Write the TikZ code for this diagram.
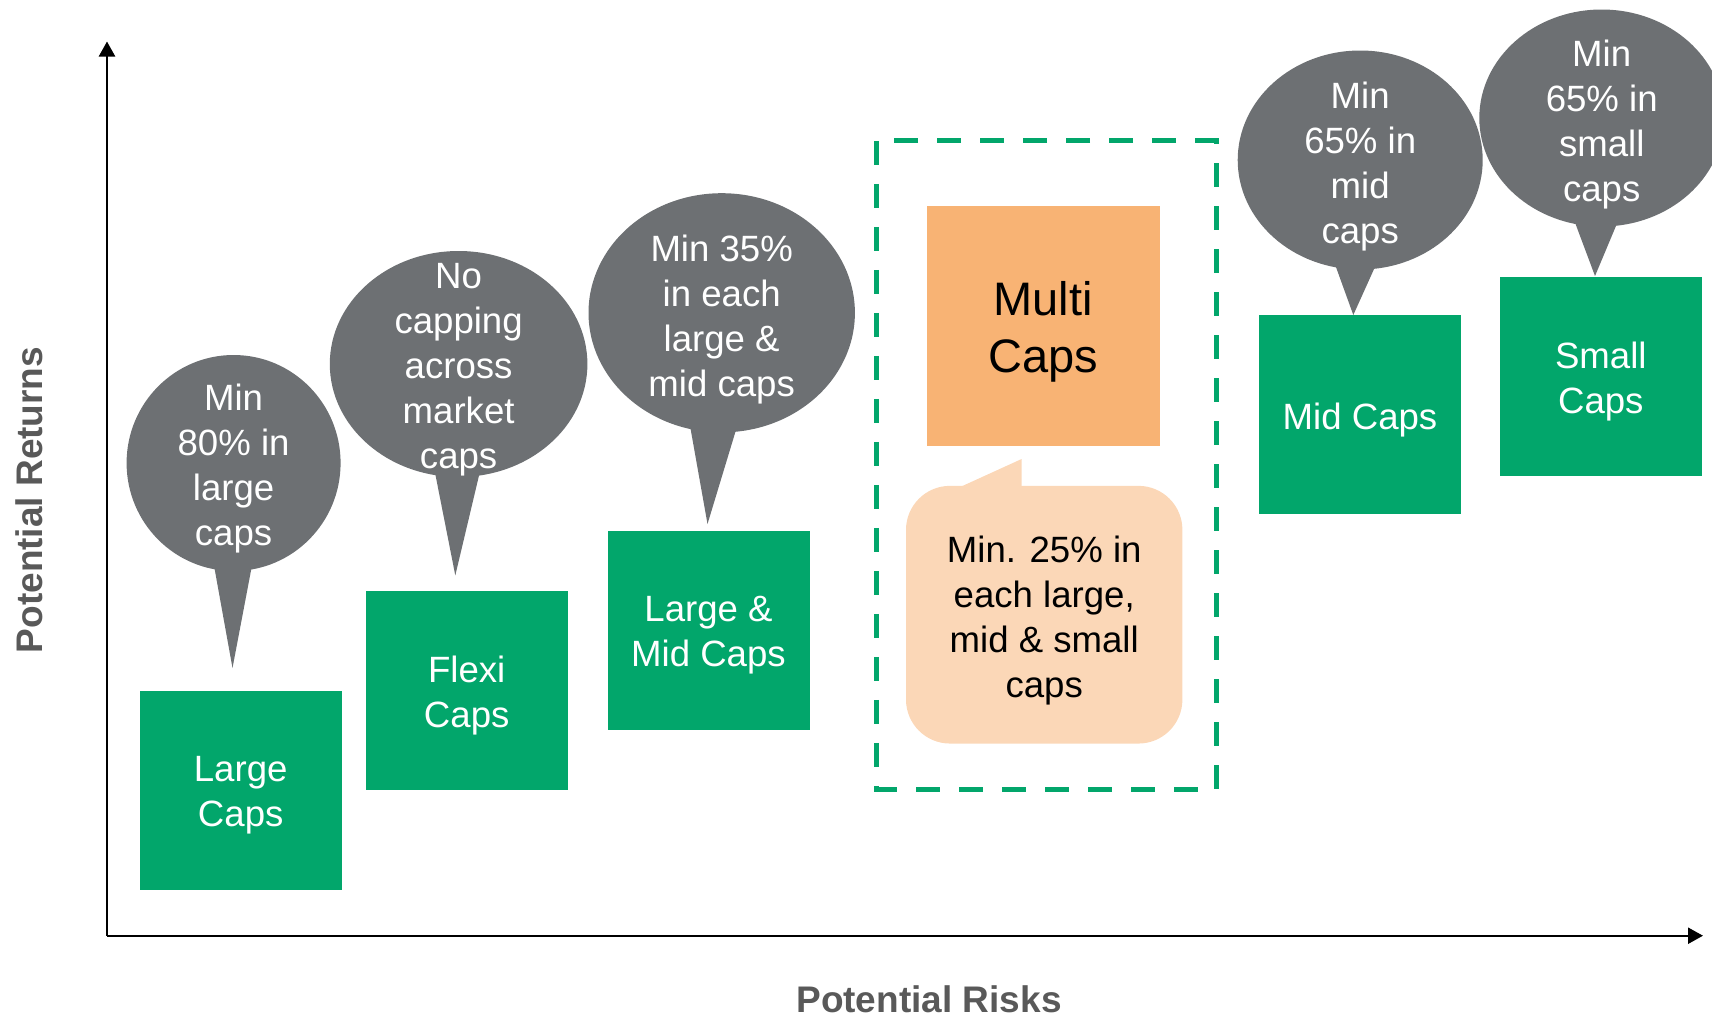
\documentclass[tikz,border=0pt]{standalone}
\usepackage{fontspec}
\setmainfont{Liberation Sans}
\usetikzlibrary{arrows.meta,calc}
\definecolor{capgreen}{HTML}{02A66B}
\definecolor{bubgray}{HTML}{6D7073}
\definecolor{multiorange}{HTML}{F8B374}
\definecolor{peach}{HTML}{FBD7B7}
\definecolor{axisgray}{HTML}{595959}
\begin{document}
\begin{tikzpicture}[x=0.5pt,y=-0.5pt,
  capbox/.style={fill=capgreen, minimum width=101pt, minimum height=99.5pt, inner sep=0pt},
  txt/.style={align=center, inner sep=0pt, yshift=-2.8pt, font=\fontsize{18.3}{22.5}\selectfont},
  captext/.style={txt, text=white},
  bubtext/.style={txt, text=white},
  bub/.style={fill=bubgray},
  axislabel/.style={text=axisgray, inner sep=0pt, font=\fontsize{18.5}{22}\selectfont\bfseries},
  axisline/.style={line width=1.15pt, -{Triangle[width=8pt,length=7.5pt]}}]
\useasboundingbox (0,0) rectangle (1712,1017);
\clip (0,0) rectangle (1712,1017);

% axes
\coordinate (origin) at (107,935.7);
\coordinate (ytop) at (107,41.5);
\coordinate (xend) at (1703,935.7);
\draw[axisline] (origin) -- (ytop);
\draw[axisline] (origin) -- (xend);
\node[axislabel, rotate=90] (ylab) at (29.5,500) {Potential Returns};
\node[axislabel] (xlab) at (929,999) {Potential Risks};

% dashed frame
\draw[capgreen, line width=2.4pt, dash pattern=on 12pt off 9.5pt] (876.7,140.8) rectangle (1216.3,789.4);

% green boxes
\node[capbox] (large) at (240.7,790) {};
\node[captext] at (large.center) {Large\\Caps};
\node[capbox] (flexi) at (466.7,690) {};
\node[captext] at (flexi.center) {Flexi\\Caps};
\node[capbox] (largemid) at (708.5,630) {};
\node[captext] at (largemid.center) {Large \&\\Mid Caps};
\node[capbox] (mid) at (1360,414.5) {};
\node[captext] at (mid.center) {Mid Caps};
\node[capbox] (small) at (1600.8,376) {};
\node[captext] at (small.center) {Small\\Caps};

% multi caps
\node[fill=multiorange, minimum width=116.25pt, minimum height=120pt, inner sep=0pt] (multi) at (1043.3,326.4) {};
\node[txt, font=\fontsize{23.5}{28.5}\selectfont] at (multi.center) {Multi\\Caps};
\fill[peach] (953.6,490) -- (1021.6,459) -- (1021.6,490) -- cycle;
\node[fill=peach, rounded corners=22pt, minimum width=138.2pt, minimum height=128.85pt, inner sep=0pt] (note) at (1044.2,614.7) {};
\node[txt] at (note.center) {Min. 25\% in\\each large,\\mid \& small\\caps};

% bubbles
\fill[bub] (233.6,463) ellipse [x radius=53.5pt, y radius=54pt];
\fill[bub] (213,560) -- (232.5,668) -- (253,560) -- cycle;
\node[bubtext] (b1) at (233.6,463) {Min\\80\% in\\large\\caps};

\fill[bub] (458.6,364) ellipse [x radius=64.4pt, y radius=56.5pt];
\fill[bub] (433.5,465) -- (455.3,575.4) -- (481.5,465) -- cycle;
\node[bubtext] (b2) at (458.6,364) {No\\capping\\across\\market\\caps};

\fill[bub] (721.7,312.8) ellipse [x radius=66.6pt, y radius=59.8pt];
\fill[bub] (689,420) -- (707.5,524) -- (739,420) -- cycle;
\node[bubtext] (b3) at (721.7,314) {Min 35\%\\in each\\large \&\\mid caps};

\fill[bub] (1360.2,160) ellipse [x radius=61.25pt, y radius=54.75pt];
\fill[bub] (1332.7,258) -- (1353.3,315) -- (1379,258) -- cycle;
\node[bubtext] (b4) at (1360.2,161) {Min\\65\% in\\mid\\caps};

\fill[bub] (1601.7,118) ellipse [x radius=61.2pt, y radius=54.25pt];
\fill[bub] (1573.3,218) -- (1595,276) -- (1619.3,218) -- cycle;
\node[bubtext] (b5) at (1601.7,119) {Min\\65\% in\\small\\caps};
\end{tikzpicture}
\end{document}
